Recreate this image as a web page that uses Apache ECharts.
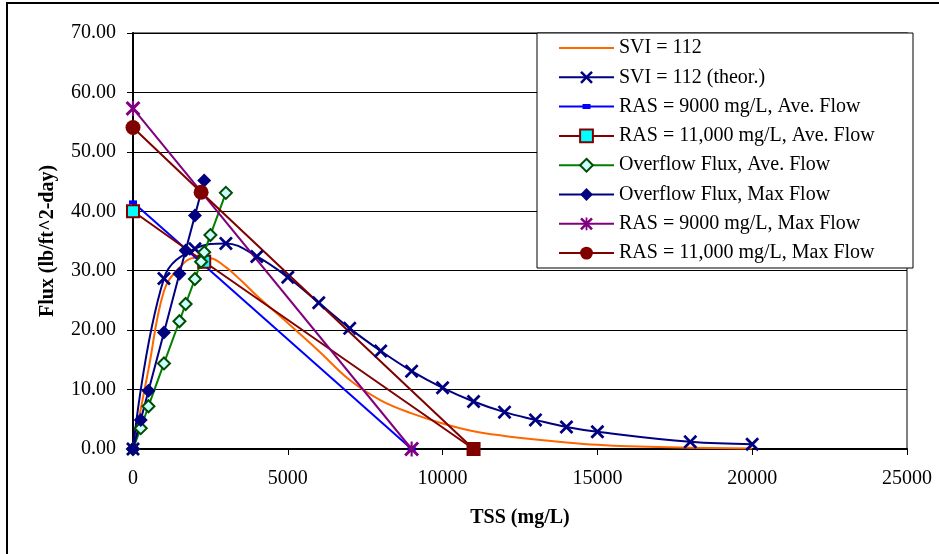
<!DOCTYPE html>
<html>
<head>
<meta charset="utf-8">
<title>Flux vs TSS</title>
<script src="https://cdn.jsdelivr.net/npm/echarts@6.0.0/dist/echarts.min.js"></script>
<style>
html, body { margin: 0; padding: 0; background: #fff; }
#main { width: 939px; height: 554px; }
</style>
</head>
<body>
<div id="main"></div>
<script>
// values
var sviX = [0, 500, 1000, 1500, 2000, 2500, 3000, 3500, 4000, 5000, 6000, 7000, 8000, 9000, 10000, 11000, 12000, 13000, 14000, 15000, 16000, 18000, 20000]
var sviY = [0, 13.4, 26.6, 30.5, 32.2, 32.1, 30.6, 28.3, 25.8, 21.2, 16.5, 11.6, 8.2, 6.0, 4.3, 3.0, 2.2, 1.6, 1.1, 0.7, 0.45, 0.2, 0.1]

var theorX = [0, 1000, 2000, 3000, 4000, 5000, 6000, 7000, 8000, 9000, 10000, 11000, 12000, 13000, 14000, 15000, 18000, 20000]
var theorY = [0, 28.7, 33.7, 34.6, 32.4, 28.9, 24.6, 20.3, 16.5, 13.1, 10.3, 8.0, 6.2, 4.9, 3.7, 2.9, 1.2, 0.8]

var ras9AveX = [0, 9000]
var ras9AveY = [41.5, 0]

var ras11AveX = [0, 2300, 11000]
var ras11AveY = [40.0, 31.5, 0]

var ofAveX = [0, 250, 500, 1000, 1500, 1700, 2000, 2200, 2300, 2500, 3000]
var ofAveY = [0, 3.5, 7.2, 14.4, 21.5, 24.4, 28.6, 31.5, 33.1, 36.0, 43.1]

var ofMaxX = [0, 250, 500, 1000, 1500, 1700, 2000, 2300]
var ofMaxY = [0, 4.9, 9.8, 19.6, 29.5, 33.4, 39.3, 45.2]

var ras9MaxX = [0, 9000]
var ras9MaxY = [57.3, 0]

var ras11MaxX = [0, 2200, 11000]
var ras11MaxY = [54.1, 43.2, 0]

var names = [
    'SVI = 112',
    'SVI = 112 (theor.)',
    'RAS = 9000 mg/L, Ave. Flow',
    'RAS = 11,000 mg/L, Ave. Flow',
    'Overflow Flux, Ave. Flow',
    'Overflow Flux, Max Flow',
    'RAS = 9000 mg/L, Max Flow',
    'RAS = 11,000 mg/L, Max Flow'
]

function pairs(xs, ys) {
    var out = []
    for (let i = 0; i < xs.length; i++) {
        out.push([xs[i], ys[i]])
    }
    return out
}

var FONT = 'Liberation Serif'
var crossPath = 'path://M0,1.4 L1.4,0 L5,3.6 L8.6,0 L10,1.4 L6.4,5 L10,8.6 L8.6,10 L5,6.4 L1.4,10 L0,8.6 L3.6,5 Z'
var starPath = crossPath + ' M4.3,0 L5.7,0 L5.7,10 L4.3,10 Z'
// legend icons: empty moves only stretch the box to 55x16
var lineIcon = 'path://M0,0 Z M55,16 Z M0,7 L55,7 L55,9 L0,9 Z'
var dashIcon = 'path://M0,0 Z M55,16 Z M0,7 L55,7 L55,9 L0,9 Z M23.5,5.5 L31.5,5.5 L31.5,10.5 L23.5,10.5 Z'

// last point of the 11,000 ave series is drawn solid
var ras11AveData = pairs(ras11AveX, ras11AveY)
ras11AveData[ras11AveData.length - 1] = {
    value: ras11AveData[ras11AveData.length - 1],
    itemStyle: { color: '#800000' }
}
var ras11MaxData = pairs(ras11MaxX, ras11MaxY)
ras11MaxData[ras11MaxData.length - 1] = {
    value: ras11MaxData[ras11MaxData.length - 1],
    symbol: 'none'
}

var mCharts = echarts.init(document.getElementById('main'))
var option = {
    animation: false,
    backgroundColor: '#fff',
    textStyle: { fontFamily: FONT },
    grid: {
        left: 133, top: 33, right: 32, bottom: 105,
        show: true, borderColor: '#808080', borderWidth: 2
    },
    xAxis: {
        type: 'value',
        min: 0, max: 25000, interval: 5000,
        name: 'TSS (mg/L)',
        nameLocation: 'middle',
        nameGap: 59,
        nameTextStyle: { fontFamily: FONT, fontSize: 20, fontWeight: 'bold', color: '#000' },
        axisLine: { onZero: false, lineStyle: { color: '#000', width: 2 } },
        axisTick: { show: true, inside: false, length: 6, lineStyle: { color: '#000' } },
        axisLabel: {
            fontFamily: FONT, fontSize: 20, color: '#000', margin: 20,
            formatter: function (v) { return String(v) }
        },
        splitLine: { show: false }
    },
    yAxis: {
        type: 'value',
        min: 0, max: 70, interval: 10,
        name: 'Flux (lb/ft^2-day)',
        nameLocation: 'middle',
        nameRotate: 90,
        nameGap: 75,
        nameTextStyle: { fontFamily: FONT, fontSize: 20, fontWeight: 'bold', color: '#000' },
        axisLine: { show: true, lineStyle: { color: '#000', width: 2 } },
        axisTick: { show: true, inside: false, length: 6, lineStyle: { color: '#000' } },
        axisLabel: {
            fontFamily: FONT, fontSize: 20, color: '#000', margin: 17,
            formatter: function (v) { return v.toFixed(2) }
        },
        splitLine: { show: true, lineStyle: { color: '#000', width: 1 } }
    },
    legend: {
        orient: 'vertical',
        left: 558, top: 38,
        padding: 0,
        itemWidth: 55, itemHeight: 16,
        itemGap: 9.3,
        z: 20,
        textStyle: { fontFamily: FONT, fontSize: 20, color: '#000', lineHeight: 20 },
        data: [
            { name: names[0], icon: lineIcon },
            { name: names[1] },
            { name: names[2], icon: dashIcon },
            { name: names[3] },
            { name: names[4] },
            { name: names[5] },
            { name: names[6] },
            { name: names[7] }
        ]
    },
    graphic: [
        {
            type: 'rect', z: 10,
            shape: { x: 537, y: 33, width: 376, height: 235 },
            style: { fill: '#fff', stroke: '#000', lineWidth: 1 }
        },
        {
            type: 'rect', z: 10,
            shape: { x: 7, y: 3, width: 1000, height: 1000 },
            style: { fill: 'none', stroke: '#000', lineWidth: 2 }
        }
    ],
    series: [
        {
            name: names[0], type: 'line', smooth: 0.4,
            data: pairs(sviX, sviY),
            symbol: 'none',
            lineStyle: { color: '#ff6600', width: 2 },
            itemStyle: { color: '#ff6600' }
        },
        {
            name: names[1], type: 'line', smooth: 0.4,
            data: pairs(theorX, theorY),
            symbol: crossPath, symbolSize: 14,
            lineStyle: { color: '#000080', width: 2 },
            itemStyle: { color: '#000080' }
        },
        {
            name: names[2], type: 'line',
            data: pairs(ras9AveX, ras9AveY),
            symbol: 'rect', symbolSize: [8, 4],
            lineStyle: { color: '#0000ff', width: 2 },
            itemStyle: { color: '#0000ff' }
        },
        {
            name: names[3], type: 'line',
            data: ras11AveData,
            symbol: 'rect', symbolSize: 12,
            lineStyle: { color: '#800000', width: 2 },
            itemStyle: { color: '#00ffff', borderColor: '#800000', borderWidth: 2 }
        },
        {
            name: names[4], type: 'line',
            data: pairs(ofAveX, ofAveY),
            symbol: 'diamond', symbolSize: 12,
            lineStyle: { color: '#008000', width: 2 },
            itemStyle: { color: '#ccffff', borderColor: '#004d00', borderWidth: 2 }
        },
        {
            name: names[5], type: 'line',
            data: pairs(ofMaxX, ofMaxY),
            symbol: 'diamond', symbolSize: 14,
            lineStyle: { color: '#000080', width: 2 },
            itemStyle: { color: '#000080' }
        },
        {
            name: names[6], type: 'line',
            data: pairs(ras9MaxX, ras9MaxY),
            symbol: starPath, symbolSize: 15,
            lineStyle: { color: '#800080', width: 2 },
            itemStyle: { color: '#800080' }
        },
        {
            name: names[7], type: 'line',
            data: ras11MaxData,
            symbol: 'circle', symbolSize: 15,
            lineStyle: { color: '#800000', width: 2 },
            itemStyle: { color: '#800000' }
        }
    ]
}
mCharts.setOption(option)
</script>
</body>
</html>
